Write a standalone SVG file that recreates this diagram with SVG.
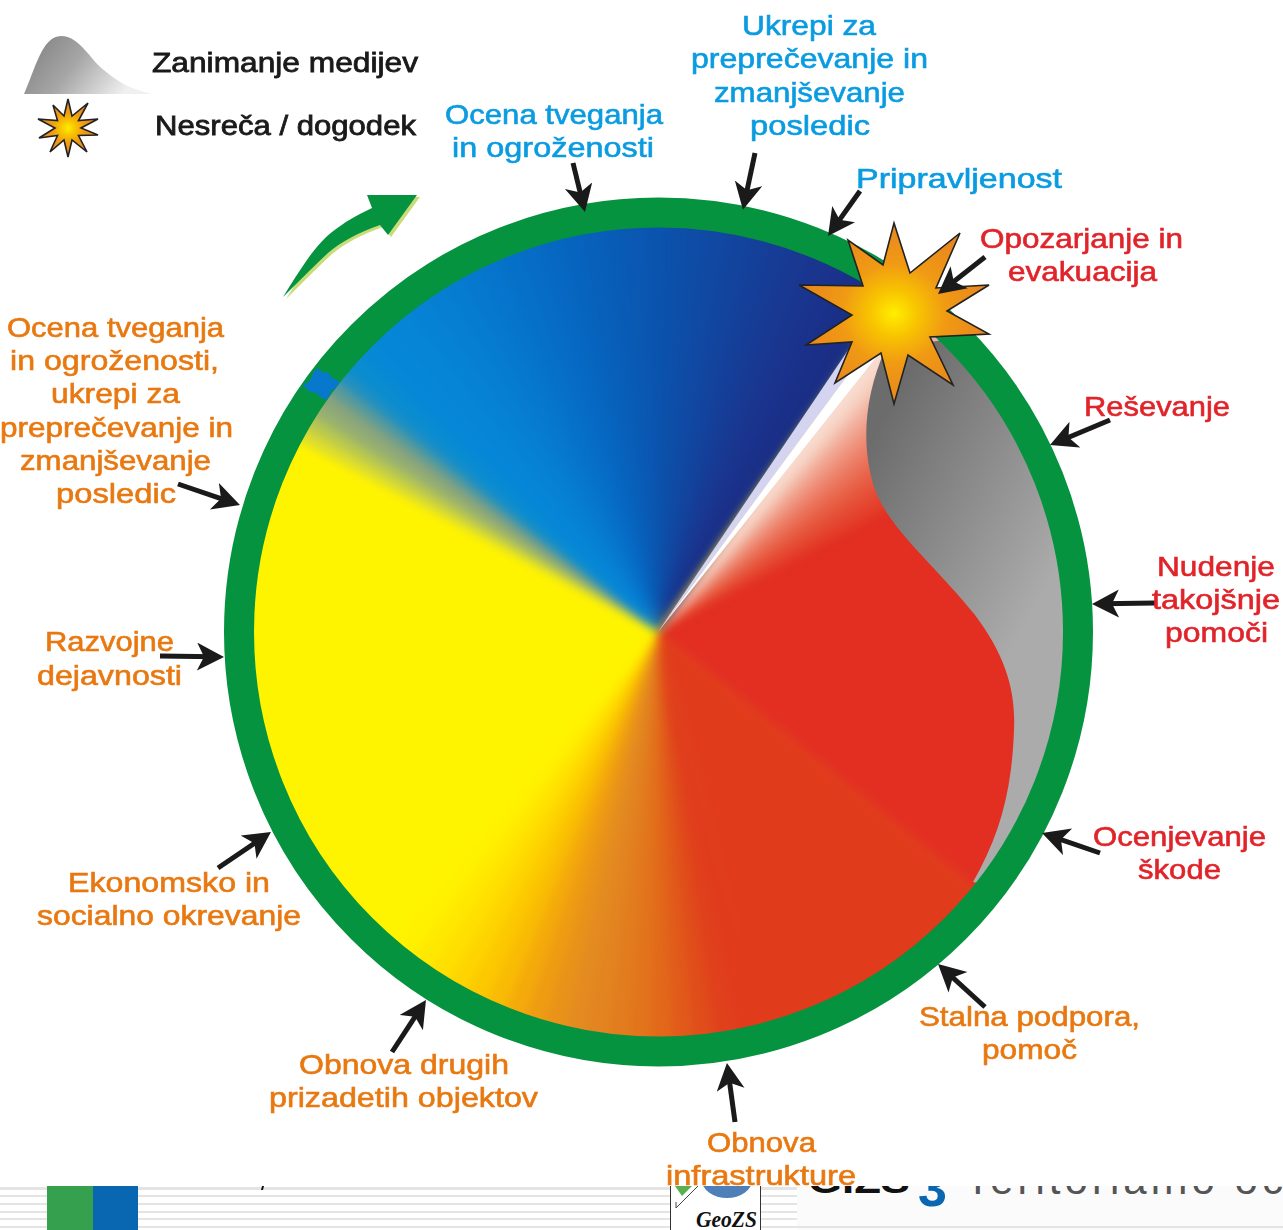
<svg xmlns="http://www.w3.org/2000/svg" width="1283" height="1230" viewBox="0 0 1283 1230">
<style>
text{font-family:"Liberation Sans",Arial,sans-serif;font-size:28px;stroke-width:.6px}
.b{fill:#0a9be0;stroke:#0a9be0}.r{fill:#e0242a;stroke:#e0242a}.o{fill:#e87810;stroke:#e87810}.k{fill:#1a1a1a;stroke:#1a1a1a;stroke-width:.8px}
.conn line{stroke:#1a1a1a;stroke-width:5;marker-end:url(#barb)}
.stripe{fill:#e4e4e4}
.starline{stroke:#222;stroke-width:1.6;stroke-linejoin:miter}
.soft{filter:url(#soft)}
</style>
<defs>
<marker id="barb" markerUnits="userSpaceOnUse" markerWidth="30" markerHeight="30" refX="17" refY="14" orient="auto"><path d="M0 0L27 14L0 28L7 14Z" fill="#1a1a1a"/></marker>
<filter id="soft" filterUnits="userSpaceOnUse" x="200" y="170" width="920" height="930" color-interpolation-filters="sRGB"><feGaussianBlur stdDeviation="5"/></filter>
<path id="w" d="M658 632L642.600 192H673.400Z"/>
<clipPath id="disc"><circle cx="658" cy="632" r="410"/></clipPath>
<clipPath id="band"><rect x="0" y="1186" width="1283" height="44"/></clipPath>
<linearGradient id="grey" gradientUnits="userSpaceOnUse" x1="865" y1="450" x2="1062" y2="560"><stop offset="0" stop-color="#6c6c6c"/><stop offset="1" stop-color="#ababab"/></linearGradient>
<radialGradient id="burst"><stop offset="0" stop-color="#ffee00"/><stop offset=".25" stop-color="#f8c400"/><stop offset=".55" stop-color="#f09a14"/><stop offset="1" stop-color="#e8861e"/></radialGradient>
<linearGradient id="media" x1="0" y1="0" x2="1" y2=".35"><stop offset="0" stop-color="#7c7c7c"/><stop offset=".5" stop-color="#a6a6a6"/><stop offset="1" stop-color="#f0f0f0"/></linearGradient>
</defs>
<rect width="1283" height="1230" fill="#fff"/>

<g id="footer">
<rect class="stripe" x="0" y="1187" width="670" height="3"/><rect class="stripe" x="0" y="1195" width="670" height="2"/><rect class="stripe" x="0" y="1203" width="670" height="2"/><rect class="stripe" x="0" y="1211" width="670" height="2"/><rect class="stripe" x="0" y="1218" width="670" height="2"/><rect class="stripe" x="0" y="1226" width="670" height="2"/>
<rect class="stripe" x="760" y="1187" width="42" height="3"/><rect class="stripe" x="760" y="1195" width="42" height="2"/><rect class="stripe" x="760" y="1203" width="42" height="2"/><rect class="stripe" x="760" y="1211" width="42" height="2"/><rect class="stripe" x="760" y="1218" width="42" height="2"/><rect class="stripe" x="760" y="1226" width="42" height="2"/>
<rect x="47" y="1186" width="46" height="44" fill="#35a04e"/><rect x="93" y="1186" width="45" height="44" fill="#0966b0"/>
<path d="M262 1186L261 1190H263L264 1186Z" fill="#111"/>
<rect x="797" y="1186" width="486" height="44" fill="#fbfbfb"/><rect x="797" y="1226" width="486" height="2" fill="#e4e4e4"/>
<g clip-path="url(#band)">
<rect x="670.500" y="1180" width="90" height="60" fill="#fff" stroke="#333"/>
<path d="M675 1186H692L682 1196Z" fill="#58b04e"/>
<path d="M698 1186L676 1208V1202" fill="none" stroke="#444" stroke-width="1"/>
<ellipse cx="727" cy="1180" rx="25" ry="18" fill="#4f7fb8"/>
<text x="696" y="1227" textLength="61" lengthAdjust="spacingAndGlyphs" style="font-family:'Liberation Serif',serif;font-style:italic;font-weight:bold;font-size:24px;fill:#111;stroke:none">GeoZS</text>
<text x="808" y="1193" textLength="102" lengthAdjust="spacingAndGlyphs" style="font-weight:bold;font-size:36px;fill:#111;stroke:none">GIZS</text>
<text x="918" y="1206" style="font-weight:bold;font-size:52px;fill:#0a66b0;stroke:none">3</text>
<text x="965" y="1194" textLength="318" lengthAdjust="spacing" style="font-size:42px;fill:#555;stroke:none">Teritorialno oc</text>
</g>
</g>

<g id="wheel">
<g clip-path="url(#disc)">
<circle cx="658" cy="632" r="415" fill="#fff400"/>
<g id="warm" class="soft">
<use href="#w" transform="rotate(218 658 632)" fill="#fff000"/><use href="#w" transform="rotate(215 658 632)" fill="#ffe800"/><use href="#w" transform="rotate(212 658 632)" fill="#ffdf00"/><use href="#w" transform="rotate(209 658 632)" fill="#fed400"/><use href="#w" transform="rotate(206 658 632)" fill="#fcc800"/><use href="#w" transform="rotate(203 658 632)" fill="#f9bb04"/><use href="#w" transform="rotate(200 658 632)" fill="#f4aa0a"/><use href="#w" transform="rotate(197 658 632)" fill="#ee9c12"/><use href="#w" transform="rotate(194 658 632)" fill="#e8921a"/><use href="#w" transform="rotate(191 658 632)" fill="#e48a20"/><use href="#w" transform="rotate(188 658 632)" fill="#e28420"/><use href="#w" transform="rotate(185 658 632)" fill="#e27c1e"/><use href="#w" transform="rotate(182 658 632)" fill="#e2741c"/><use href="#w" transform="rotate(179 658 632)" fill="#e2681a"/><use href="#w" transform="rotate(176 658 632)" fill="#e15a1a"/><use href="#w" transform="rotate(173 658 632)" fill="#e04c1a"/><use href="#w" transform="rotate(170 658 632)" fill="#e0401c"/><use href="#w" transform="rotate(167 658 632)" fill="#e03c1c"/>
<path d="M658 632L771 1056A439 439 0 0 0 999 908Z" fill="#e03c1c"/>
<path d="M658 632L999 908A439 439 0 0 0 928 286Z" fill="#e22f22"/>
</g>
<g id="pink" class="soft">
<use href="#w" transform="rotate(60 658 632)" fill="#e43c28"/><use href="#w" transform="rotate(58 658 632)" fill="#e4442e"/><use href="#w" transform="rotate(56 658 632)" fill="#e54e36"/><use href="#w" transform="rotate(54 658 632)" fill="#e6583f"/><use href="#w" transform="rotate(52 658 632)" fill="#e86448"/><use href="#w" transform="rotate(50 658 632)" fill="#ea7058"/><use href="#w" transform="rotate(48 658 632)" fill="#ec7e66"/><use href="#w" transform="rotate(46 658 632)" fill="#ee8e78"/><use href="#w" transform="rotate(44 658 632)" fill="#f0a08c"/><use href="#w" transform="rotate(42 658 632)" fill="#f2b4a2"/><use href="#w" transform="rotate(40 658 632)" fill="#f6cebe"/><use href="#w" transform="rotate(38 658 632)" fill="#f8dcd0"/>
</g>
<g id="cool" class="soft">
<use href="#w" transform="rotate(300 658 632)" fill="#dcdc30"/><use href="#w" transform="rotate(302 658 632)" fill="#b8c850"/><use href="#w" transform="rotate(304 658 632)" fill="#98b070"/><use href="#w" transform="rotate(306 658 632)" fill="#8aa47c"/><use href="#w" transform="rotate(308 658 632)" fill="#5a9a9a"/><use href="#w" transform="rotate(310 658 632)" fill="#2090c0"/><use href="#w" transform="rotate(312 658 632)" fill="#0a8cd0"/>
<use href="#w" transform="rotate(315 658 632)" fill="#0688d6"/><use href="#w" transform="rotate(318 658 632)" fill="#0686d6"/><use href="#w" transform="rotate(321 658 632)" fill="#0684d6"/><use href="#w" transform="rotate(324 658 632)" fill="#0682d4"/><use href="#w" transform="rotate(327 658 632)" fill="#067fd2"/><use href="#w" transform="rotate(330 658 632)" fill="#067cd0"/><use href="#w" transform="rotate(333 658 632)" fill="#0678ce"/><use href="#w" transform="rotate(336 658 632)" fill="#0674cc"/><use href="#w" transform="rotate(339 658 632)" fill="#0670c8"/><use href="#w" transform="rotate(342 658 632)" fill="#066cc6"/><use href="#w" transform="rotate(345 658 632)" fill="#0668c2"/><use href="#w" transform="rotate(348 658 632)" fill="#0664be"/><use href="#w" transform="rotate(351 658 632)" fill="#0860ba"/><use href="#w" transform="rotate(354 658 632)" fill="#085cb6"/><use href="#w" transform="rotate(357 658 632)" fill="#0a58b2"/><use href="#w" transform="rotate(360 658 632)" fill="#0a54ae"/><use href="#w" transform="rotate(3 658 632)" fill="#0c50aa"/><use href="#w" transform="rotate(6 658 632)" fill="#0e4ca6"/><use href="#w" transform="rotate(9 658 632)" fill="#1048a2"/><use href="#w" transform="rotate(12 658 632)" fill="#12449e"/><use href="#w" transform="rotate(15 658 632)" fill="#14409a"/><use href="#w" transform="rotate(18 658 632)" fill="#163c96"/><use href="#w" transform="rotate(21 658 632)" fill="#183892"/><use href="#w" transform="rotate(24 658 632)" fill="#1a358e"/><use href="#w" transform="rotate(27 658 632)" fill="#1a328c"/><use href="#w" transform="rotate(30 658 632)" fill="#1a3088"/><use href="#w" transform="rotate(33 658 632)" fill="#1a2e86"/>
</g>
<polygon points="658,632 890,288 905,298" fill="#d4d4f0"/>
<polygon points="658,632 905,298 916,307" fill="#fff"/>
<path d="M885 350C865 395 860 445 875 490C890 530 935 565 975 615C1005 655 1016 690 1014 730C1012 790 1000 835 973 882L1060 900L1100 600L1000 330Z" fill="url(#grey)"/>
</g>
<circle cx="658.500" cy="632" r="419.500" fill="none" stroke="#06933f" stroke-width="30"/>
<polygon points="303,385 310,381 312,375 317,368 324,373 328,372 331,377 340,382 335,389 331,391 327,400 320,397 317,393 310,392" fill="#0878cc"/>
</g>

<g id="burst-main"><polygon class="starline" fill="url(#burst)" points="894,223 910,273 960,233 936,288 989,285 947,311 989,334 930,337 953,385 908,355 894,404 881,353 835,383 852,342 806,345 852,315 799,285 863,286 848,240 883,265"/></g>

<g id="rotation-arrow">
<path d="M286 299C303 272 318 247 335 234C348 224 358 218 375 210L370 197L420 197L391 237L383 227C363 234 343 244 331 255C315 270 301 284 286 299Z" fill="#c8dc78"/>
<path d="M283 297C300 270 315 245 332 232C345 222 355 216 372 208L367 195L417 195L388 235L380 225C360 232 340 242 328 253C312 268 298 282 283 297Z" fill="#06933f"/>
</g>

<g id="legend">
<path d="M24 94C35 70 42 36 61 36C80 36 90 60 105 71C120 84 135 90 152 94Z" fill="url(#media)"/>
<polygon class="starline" fill="url(#burst)" points="68,99 72,116 88,103 78.500,120.500 98,119 81,128 98,135 78.500,135.500 87,152 72,140 68,157 64,140 50,152 57.500,135.500 39,138 55,128 38,119 57.500,120.500 53,105 64,116"/>
<text class="k" x="152" y="72" textLength="266" lengthAdjust="spacingAndGlyphs">Zanimanje medijev</text>
<text class="k" x="155" y="135" textLength="261" lengthAdjust="spacingAndGlyphs">Nesreča / dogodek</text>
</g>

<g id="connectors" class="conn">
<line x1="573" y1="163" x2="582.600" y2="202.300"/>
<line x1="755" y1="153" x2="745" y2="200"/>
<line x1="860" y1="191" x2="833.800" y2="227.900"/>
<line x1="985" y1="257" x2="945.900" y2="287.800"/>
<line x1="1110" y1="420" x2="1059.200" y2="441.200"/>
<line x1="1155" y1="603" x2="1102" y2="603.800"/>
<line x1="1100" y1="853" x2="1051.500" y2="836.300"/>
<line x1="985" y1="1007" x2="945.400" y2="970.800"/>
<line x1="735" y1="1122" x2="728.300" y2="1072.900"/>
<line x1="392" y1="1052" x2="420.500" y2="1008.400"/>
<line x1="218" y1="868" x2="262.700" y2="837.600"/>
<line x1="160" y1="656" x2="214" y2="656.800"/>
<line x1="178" y1="484" x2="230.500" y2="501.800"/>
</g>

<g id="labels">
<g id="label-ukrepi"><text class="b" x="742" y="35" textLength="134" lengthAdjust="spacingAndGlyphs">Ukrepi za</text><text class="b" x="691" y="68" textLength="237" lengthAdjust="spacingAndGlyphs">preprečevanje in</text><text class="b" x="714" y="102" textLength="191" lengthAdjust="spacingAndGlyphs">zmanjševanje</text><text class="b" x="750" y="135" textLength="120" lengthAdjust="spacingAndGlyphs">posledic</text></g>
<g id="label-ocena"><text class="b" x="445" y="124" textLength="218" lengthAdjust="spacingAndGlyphs">Ocena tveganja</text><text class="b" x="452" y="157" textLength="202" lengthAdjust="spacingAndGlyphs">in ogroženosti</text></g>
<g id="label-pripravljenost"><text class="b" x="856" y="188" textLength="206" lengthAdjust="spacingAndGlyphs">Pripravljenost</text></g>
<g id="label-opozarjanje"><text class="r" x="980" y="248" textLength="203" lengthAdjust="spacingAndGlyphs">Opozarjanje in</text><text class="r" x="1008" y="281" textLength="149" lengthAdjust="spacingAndGlyphs">evakuacija</text></g>
<g id="label-resevanje"><text class="r" x="1084" y="416" textLength="146" lengthAdjust="spacingAndGlyphs">Reševanje</text></g>
<g id="label-nudenje"><text class="r" x="1157" y="576" textLength="118" lengthAdjust="spacingAndGlyphs">Nudenje</text><text class="r" x="1152" y="609" textLength="128" lengthAdjust="spacingAndGlyphs">takojšnje</text><text class="r" x="1165" y="642" textLength="103" lengthAdjust="spacingAndGlyphs">pomoči</text></g>
<g id="label-ocenjevanje"><text class="r" x="1093" y="846" textLength="173" lengthAdjust="spacingAndGlyphs">Ocenjevanje</text><text class="r" x="1138" y="879" textLength="83" lengthAdjust="spacingAndGlyphs">škode</text></g>
<g id="label-stalna"><text class="o" x="919" y="1026" textLength="221" lengthAdjust="spacingAndGlyphs">Stalna podpora,</text><text class="o" x="982" y="1059" textLength="95" lengthAdjust="spacingAndGlyphs">pomoč</text></g>
<g id="label-infrastruktura"><text class="o" x="707" y="1152" textLength="109" lengthAdjust="spacingAndGlyphs">Obnova</text><text class="o" x="666" y="1185" textLength="190" lengthAdjust="spacingAndGlyphs">infrastrukture</text></g>
<g id="label-obnova"><text class="o" x="299" y="1074" textLength="210" lengthAdjust="spacingAndGlyphs">Obnova drugih</text><text class="o" x="269" y="1107" textLength="269" lengthAdjust="spacingAndGlyphs">prizadetih objektov</text></g>
<g id="label-ekonomsko"><text class="o" x="68" y="892" textLength="202" lengthAdjust="spacingAndGlyphs">Ekonomsko in</text><text class="o" x="37" y="925" textLength="264" lengthAdjust="spacingAndGlyphs">socialno okrevanje</text></g>
<g id="label-razvojne"><text class="o" x="45" y="651" textLength="129" lengthAdjust="spacingAndGlyphs">Razvojne</text><text class="o" x="37" y="685" textLength="145" lengthAdjust="spacingAndGlyphs">dejavnosti</text></g>
<g id="label-ocena-left"><text class="o" x="7" y="337" textLength="217" lengthAdjust="spacingAndGlyphs">Ocena tveganja</text><text class="o" x="10" y="370" textLength="209" lengthAdjust="spacingAndGlyphs">in ogroženosti,</text><text class="o" x="51" y="403" textLength="129" lengthAdjust="spacingAndGlyphs">ukrepi za</text><text class="o" x="0" y="437" textLength="233" lengthAdjust="spacingAndGlyphs">preprečevanje in</text><text class="o" x="20" y="470" textLength="191" lengthAdjust="spacingAndGlyphs">zmanjševanje</text><text class="o" x="56" y="503" textLength="120" lengthAdjust="spacingAndGlyphs">posledic</text></g>
</g>
</svg>
